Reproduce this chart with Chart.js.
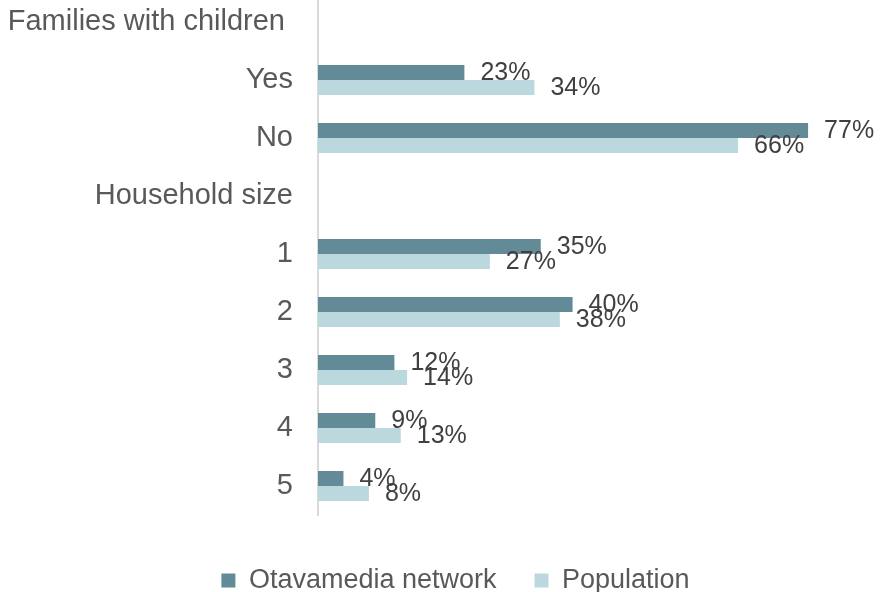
<!DOCTYPE html>
<html>
<head>
<meta charset="utf-8">
<script src="https://cdn.jsdelivr.net/npm/chart.js@4"></script>
<style>
  html, body { margin: 0; padding: 0; background: #fff; overflow: hidden; }
  #wrap { position: absolute; left: 0; top: -7px; width: 884px; height: 620px; }
</style>
</head>
<body>
<div id="wrap"><canvas id="chart"></canvas></div>
<script>
const categories = ['Families with children ', 'Yes', 'No', 'Household size', '1', '2', '3', '4', '5'];
const networkValues = [null, 23, 77, null, 35, 40, 12, 9, 4];
const populationValues = [null, 34, 66, null, 27, 38, 14, 13, 8];

const FONT = '"Liberation Sans", Arial, sans-serif';

// writes "23%" etc. just right of each bar
const barLabels = {
    id: 'barLabels',
    afterDatasetsDraw(chart) {
        const ctx = chart.ctx;
        ctx.save();
        ctx.font = '25px ' + FONT;
        ctx.fillStyle = '#404040';
        ctx.textBaseline = 'middle';
        ctx.textAlign = 'left';
        chart.data.datasets.forEach((ds, i) => {
            chart.getDatasetMeta(i).data.forEach((bar, j) => {
                const v = ds.data[j];
                if (v === null) return;
                ctx.fillText(v + '%', bar.x + 16, bar.y + 1);
            });
        });
        ctx.restore();
    }
};

// legend sits right of centre and low in the original
const legendShift = {
    id: 'legendShift',
    afterLayout(chart) {
        chart.legend.left += 26;
        chart.legend.right += 26;
        chart.legend.top += 14;
        chart.legend.bottom += 14;
    }
};

const ctx = document.getElementById('chart').getContext('2d');
new Chart(ctx, {
    type: 'bar',
    data: {
        labels: categories,
        datasets: [
            {
                label: 'Otavamedia network',
                data: networkValues,
                backgroundColor: '#638b97',
                categoryPercentage: 0.517,
                barPercentage: 1.0
            },
            {
                label: 'Population',
                data: populationValues,
                backgroundColor: '#bcd8df',
                categoryPercentage: 0.517,
                barPercentage: 1.0
            }
        ]
    },
    options: {
        indexAxis: 'y',
        responsive: true,
        maintainAspectRatio: false,
        animation: false,
        layout: { padding: { left: 0, right: 25, top: 0, bottom: 23 } },
        plugins: {
            legend: {
                position: 'bottom',
                labels: {
                    boxWidth: 14,
                    boxHeight: 14,
                    padding: 38,
                    color: '#595959',
                    font: { family: FONT, size: 27 }
                }
            },
            tooltip: { enabled: false }
        },
        scales: {
            x: {
                display: false,
                min: 0,
                max: 85
            },
            y: {
                afterFit(scale) {
                    scale.width = 318;
                    scale.paddingTop = 0;
                    scale.paddingBottom = 0;
                },
                grid: { display: false, drawTicks: false },
                border: { display: true, color: '#d9d9d9', width: 2 },
                ticks: {
                    color: '#595959',
                    padding: 25,
                    font: { family: FONT, size: 29 }
                }
            }
        }
    },
    plugins: [barLabels, legendShift]
});
</script>
</body>
</html>
